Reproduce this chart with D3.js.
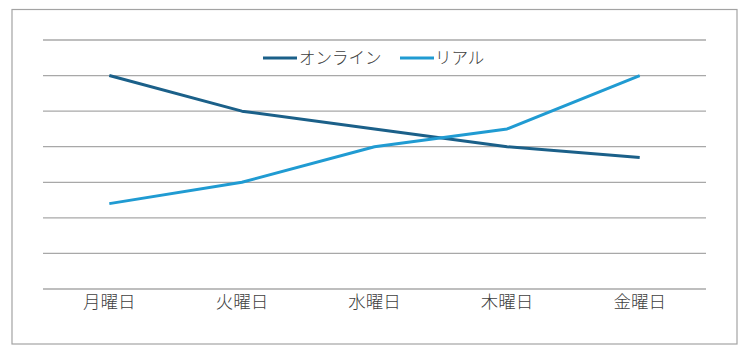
<!DOCTYPE html>
<html><head><meta charset="utf-8">
<script src="https://cdn.jsdelivr.net/npm/d3@7"></script>
<style>body{margin:0;background:#fff}svg{display:block}</style>
</head><body>
<svg id="c" width="750" height="355"></svg>
<script>
const categories = ["月曜日","火曜日","水曜日","木曜日","金曜日"];
const onlineValues = [6, 5, 4.5, 4, 3.7];
const realValues = [2.4, 3, 4, 4.5, 6];
const seriesNames = ["オンライン","リアル"];
const yTicks = [0,1,2,3,4,5,6,7];
const colors = ["#1b6089","#209bd2"];

const svg = d3.select("#c");
const font = "'Noto Sans CJK JP', sans-serif";
svg.append("rect").attr("x",12).attr("y",9.5).attr("width",725).attr("height",334.5)
  .attr("fill","#fff").attr("stroke","#a3a3a3").attr("stroke-width",1.2);

const x = d3.scaleBand().domain(categories).range([43,706]);
const y = d3.scaleLinear().domain([0,7]).range([289,40]);

svg.append("g").selectAll("line").data(yTicks).join("line")
  .attr("x1",43).attr("x2",706).attr("y1",d=>y(d)).attr("y2",d=>y(d))
  .attr("stroke","#a8a8a8").attr("stroke-width",1.3);

const xAxis = svg.append("g").attr("transform","translate(0,289)")
  .call(d3.axisBottom(x).tickSize(0).tickPadding(5));
xAxis.select(".domain").remove();
xAxis.selectAll("text").attr("font-family",font).attr("font-size",17.5).attr("font-weight",300)
  .attr("fill","#404040").attr("dy","0.82em");

const line = d3.line().x((d,i)=>x(categories[i])+x.bandwidth()/2).y(d=>y(d));
[onlineValues, realValues].forEach((vals,k)=>{
  svg.append("path").datum(vals).attr("d",line).attr("fill","none")
    .attr("stroke",colors[k]).attr("stroke-width",3).attr("stroke-linejoin","round");
});

const legend = svg.append("g");
const legItems = [{x:263, tx:299},{x:400, tx:435}];
seriesNames.forEach((n,k)=>{
  legend.append("line").attr("x1",legItems[k].x).attr("x2",legItems[k].x+34)
    .attr("y1",58).attr("y2",58).attr("stroke",colors[k]).attr("stroke-width",3);
  legend.append("text").attr("x",legItems[k].tx).attr("y",58).attr("dy","0.35em")
    .attr("font-family",font).attr("font-size",16.5).attr("font-weight",300).attr("fill","#404040").text(n);
});
</script>
</body></html>
